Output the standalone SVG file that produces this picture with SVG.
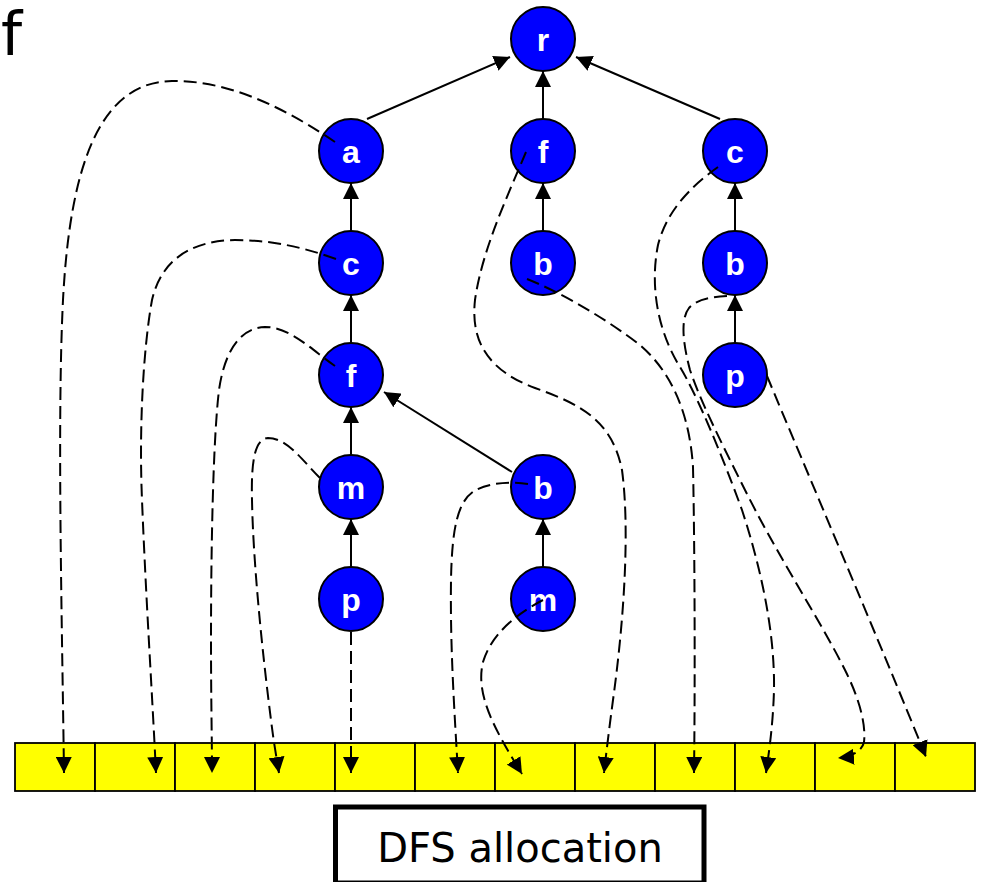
<svg xmlns="http://www.w3.org/2000/svg" width="983" height="882" viewBox="0 0 983 882">
  <style>
    .node circle { fill: #0000ff; stroke: #000; stroke-width: 2; }
    .node text { fill: #fff; font-family: "Liberation Sans", Arial, sans-serif; font-weight: bold; font-size: 32px; text-anchor: middle; }
    .edge { fill: none; stroke: #000; stroke-width: 2; marker-end: url(#head); }
    .alloc { fill: none; stroke: #000; stroke-width: 2; stroke-dasharray: 13 6; marker-end: url(#head); }
    .cell { fill: #ffff00; stroke: #000; stroke-width: 1.8; }
  </style>
  <defs>
    <marker id="head" markerUnits="userSpaceOnUse" markerWidth="16" markerHeight="16" viewBox="0 0 15 15" refX="15" refY="7.5" orient="auto">
      <path d="M0,0 L15,7.5 L0,15 z" fill="#000"/>
    </marker>
  </defs>

  <!-- caption letter in the corner -->
  <text x="1" y="55" font-family="'DejaVu Sans', sans-serif" font-size="60" fill="#000">f</text>

  <!-- memory array -->
  <g id="array">
    <rect class="cell" x="15" y="743" width="80" height="48"/>
    <rect class="cell" x="95" y="743" width="80" height="48"/>
    <rect class="cell" x="175" y="743" width="80" height="48"/>
    <rect class="cell" x="255" y="743" width="80" height="48"/>
    <rect class="cell" x="335" y="743" width="80" height="48"/>
    <rect class="cell" x="415" y="743" width="80" height="48"/>
    <rect class="cell" x="495" y="743" width="80" height="48"/>
    <rect class="cell" x="575" y="743" width="80" height="48"/>
    <rect class="cell" x="655" y="743" width="80" height="48"/>
    <rect class="cell" x="735" y="743" width="80" height="48"/>
    <rect class="cell" x="815" y="743" width="80" height="48"/>
    <rect class="cell" x="895" y="743" width="80" height="48"/>
  </g>

  <!-- caption box -->
  <g id="caption">
    <rect x="335.5" y="807" width="368.5" height="76" fill="#fff" stroke="#000" stroke-width="5"/>
    <text x="520" y="862" font-family="'DejaVu Sans', Verdana, sans-serif" font-size="40" text-anchor="middle" fill="#000">DFS allocation</text>
  </g>

  <!-- tree nodes -->
  <g id="n-r" class="node"><circle cx="543" cy="39" r="32"/><text x="543" y="51">r</text></g>
  <g id="n-a" class="node"><circle cx="351" cy="151" r="32"/><text x="351" y="163">a</text></g>
  <g id="n-f1" class="node"><circle cx="543" cy="151" r="32"/><text x="543" y="163">f</text></g>
  <g id="n-c1" class="node"><circle cx="735" cy="151" r="32"/><text x="735" y="163">c</text></g>
  <g id="n-c2" class="node"><circle cx="351" cy="263" r="32"/><text x="351" y="275">c</text></g>
  <g id="n-b1" class="node"><circle cx="543" cy="263" r="32"/><text x="543" y="275">b</text></g>
  <g id="n-b2" class="node"><circle cx="735" cy="263" r="32"/><text x="735" y="275">b</text></g>
  <g id="n-f2" class="node"><circle cx="351" cy="375" r="32"/><text x="351" y="387">f</text></g>
  <g id="n-p1" class="node"><circle cx="735" cy="375" r="32"/><text x="735" y="387">p</text></g>
  <g id="n-m1" class="node"><circle cx="351" cy="487" r="32"/><text x="351" y="499">m</text></g>
  <g id="n-b3" class="node"><circle cx="543" cy="487" r="32"/><text x="543" y="499">b</text></g>
  <g id="n-p2" class="node"><circle cx="351" cy="599" r="32"/><text x="351" y="611">p</text></g>
  <g id="n-m2" class="node"><circle cx="543" cy="599" r="32"/><text x="543" y="611">m</text></g>

  <g id="connectors">
    <!-- parent links -->
    <path class="edge" d="M367,119 L510,57"/>
    <path class="edge" d="M543,119 L543,71"/>
    <path class="edge" d="M720,119 L576,57"/>
    <path class="edge" d="M351,231 L351,183"/>
    <path class="edge" d="M351,343 L351,295"/>
    <path class="edge" d="M351,455 L351,407"/>
    <path class="edge" d="M351,567 L351,519"/>
    <path class="edge" d="M543,231 L543,183"/>
    <path class="edge" d="M543,567 L543,519"/>
    <path class="edge" d="M735,231 L735,183"/>
    <path class="edge" d="M735,343 L735,295"/>
    <path class="edge" d="M512,472 L384,392"/>

    <!-- allocation order, depth first -->
    <path class="alloc" d="M335,142 C295,115 235,80 172,81 C100,82 70,165 63,300 C57,420 62,620 64,773"/>
    <path class="alloc" d="M336,259 C300,246 268,240 235,240 C185,241 160,265 152,300 C143,350 139,430 142,500 C146,600 152,690 156,773"/>
    <path class="alloc" d="M335,366 C312,350 290,327 265,327 C238,328 224,355 219,390 C213,440 211,550 211,640 C211,700 212,740 212,773"/>
    <path class="alloc" d="M320,478 C302,460 287,438 268,438 C255,439 251,460 252,500 C253,560 262,650 271,720 C274,745 277,760 279,773"/>
    <path class="alloc" d="M351,632 L351,773"/>
    <path class="alloc" d="M528,484 C510,481 490,483 476,490 C457,500 452,530 451,580 C450,650 455,720 458,773"/>
    <path class="alloc" d="M543,600 C520,612 492,632 483,662 C475,695 495,730 522,774"/>
    <path class="alloc" d="M526,152 C508,195 482,250 475,300 C470,345 492,372 535,388 C580,404 612,420 622,470 C630,530 624,620 613,700 C609,730 606,755 604,773"/>
    <path class="alloc" d="M527,279 C560,292 605,318 640,345 C675,375 690,420 693,467 C695,560 695,700 694,773"/>
    <path class="alloc" d="M718,167 C700,180 668,205 658,245 C650,285 657,330 680,367 C697,395 722,455 742,510 C760,565 775,630 774,690 C773,725 769,752 766,773"/>
    <path class="alloc" d="M727,296 C712,297 697,299 689,308 C681,318 682,340 690,370 C700,400 720,440 745,490 C780,560 820,620 845,670 C860,700 866,725 864,742 C862,752 850,757 838,758"/>
    <path class="alloc" d="M767,376 C800,455 882,648 926,757"/>
  </g>
</svg>
